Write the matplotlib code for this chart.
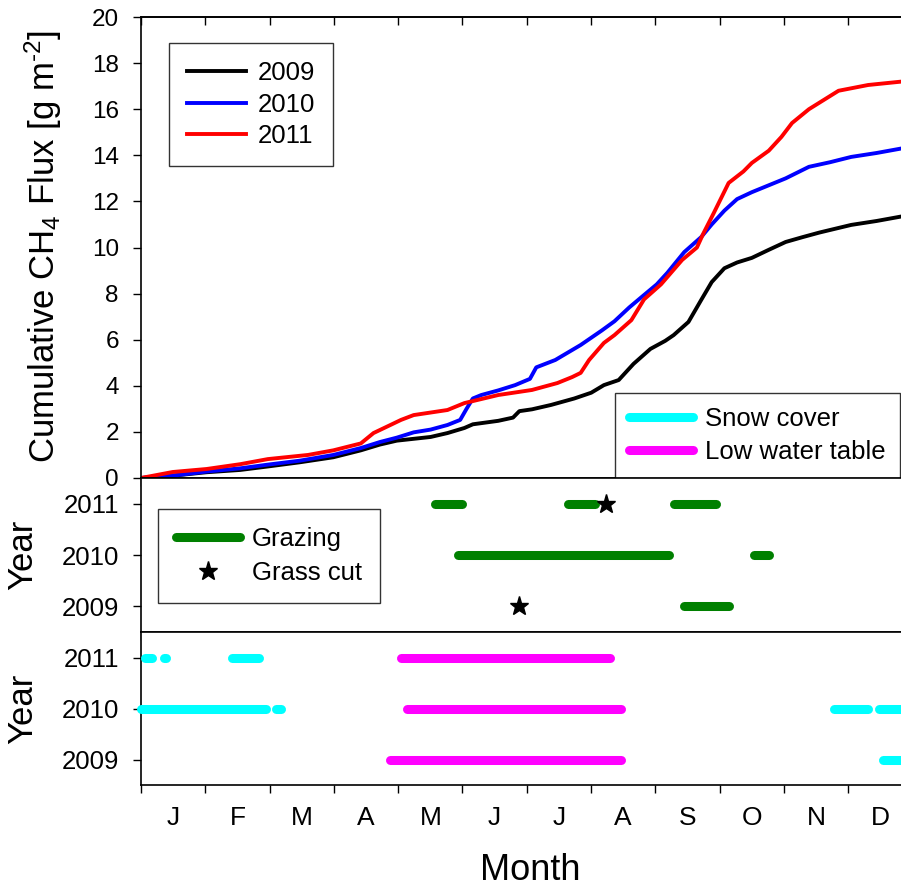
import matplotlib
matplotlib.use("Agg")
import matplotlib.pyplot as plt
from matplotlib.lines import Line2D

# cumulative CH4 flux, day of year vs g m-2
DAYS_2009 = [0, 15, 31, 47, 60, 75, 91, 104, 113, 121, 137, 145, 153, 157, 169, 176, 179, 185,
             194, 205, 213, 219, 226, 233, 241, 248, 252, 259, 265, 270, 276, 282, 289, 297,
             305, 313, 321, 336, 348, 360]
FLUX_2009 = [0, 0.1, 0.25, 0.35, 0.5, 0.68, 0.9, 1.2, 1.45, 1.62, 1.78, 1.95, 2.17, 2.33, 2.48,
             2.62, 2.9, 2.98, 3.17, 3.45, 3.7, 4.03, 4.25, 4.95, 5.6, 5.95, 6.2, 6.77, 7.72, 8.5,
             9.1, 9.35, 9.55, 9.9, 10.24, 10.45, 10.65, 10.98, 11.15, 11.35]
DAYS_2010 = [0, 15, 31, 47, 60, 75, 91, 104, 113, 121, 129, 137, 145, 151, 154, 157, 161, 169,
             177, 184, 187, 196, 208, 218, 224, 231, 238, 244, 249, 257, 265, 270, 276, 282, 289,
             297, 305, 316, 326, 336, 348, 360]
FLUX_2010 = [0, 0.1, 0.28, 0.42, 0.58, 0.75, 1.0, 1.3, 1.56, 1.75, 1.98, 2.1, 2.3, 2.52, 3.0,
             3.45, 3.6, 3.8, 4.03, 4.3, 4.8, 5.12, 5.77, 6.4, 6.8, 7.4, 7.94, 8.4, 8.9, 9.8,
             10.45, 11.0, 11.6, 12.1, 12.4, 12.7, 13.0, 13.5, 13.7, 13.93, 14.1, 14.3]
DAYS_2011 = [0, 15, 31, 47, 60, 79, 91, 104, 110, 118, 123, 129, 145, 153, 169, 185, 197, 204,
             208, 212, 219, 224, 232, 238, 246, 256, 263, 266, 271, 278, 285, 289, 297, 303,
             308, 316, 323, 330, 344, 360]
FLUX_2011 = [0, 0.26, 0.39, 0.6, 0.82, 1.0, 1.2, 1.5, 1.95, 2.3, 2.52, 2.73, 2.95, 3.25, 3.6,
             3.82, 4.12, 4.38, 4.56, 5.12, 5.86, 6.2, 6.85, 7.75, 8.4, 9.46, 10.0, 10.6, 11.5,
             12.8, 13.3, 13.67, 14.2, 14.8, 15.4, 16.0, 16.4, 16.8, 17.05, 17.2]

# management periods (start day, end day)
GRAZING_2009 = [(257, 278)]
GRAZING_2010 = [(150, 250), (290, 297)]
GRAZING_2011 = [(139, 152), (202, 215), (252, 272)]
GRASS_CUT_DAYS = [179, 220]
GRASS_CUT_YEARS = [2009, 2011]

SNOW_2009 = [(351, 365)]
SNOW_2010 = [(0, 59), (64, 66), (328, 344), (349, 365)]
SNOW_2011 = [(2, 5), (11, 12), (43, 56)]
LOW_WT_2009 = [(118, 227)]
LOW_WT_2010 = [(126, 227)]
LOW_WT_2011 = [(123, 222)]

YEARS = [2009, 2010, 2011]
MONTHS = ["J", "F", "M", "A", "M", "J", "J", "A", "S", "O", "N", "D"]

plt.rcParams["font.family"] = ["Liberation Sans", "DejaVu Sans"]
plt.rcParams["mathtext.fontset"] = "custom"
plt.rcParams["mathtext.rm"] = "Liberation Sans"
plt.rcParams["mathtext.it"] = "Liberation Sans:italic"

XMAX = 360.5
MONTH_LEN = 365 / 12
BAR_LW = 6.5


def style_axis(ax, yticks, ysize):
    ax.set_xlim(0, XMAX)
    ax.set_xticks([MONTH_LEN * k for k in range(12)])
    ax.tick_params(axis="x", direction="out", length=6, width=1, labelbottom=False)
    ax.tick_params(axis="y", direction="out", length=6, width=1, labelsize=ysize, pad=10)
    ax.set_yticks(yticks)
    ax.spines["right"].set_visible(False)
    for s in ("left", "top", "bottom"):
        ax.spines[s].set_linewidth(1.2)


def draw_periods(ax, periods, year, color):
    for start, end in periods:
        ax.plot([start, end], [year, year], color=color, lw=BAR_LW,
                solid_capstyle="round", clip_on=False, zorder=3)


def boxed_legend(ax, handles, labels, anchor, loc, pad, spacing, hlen):
    leg = ax.legend(handles, labels, loc=loc, bbox_to_anchor=anchor, fontsize=18.5,
                    frameon=True, fancybox=False, edgecolor="black", handlelength=hlen,
                    handletextpad=0.45, labelspacing=spacing, borderpad=pad, borderaxespad=0)
    leg.get_frame().set_linewidth(1.0)
    return leg


def main() -> None:
    fig = plt.figure(figsize=(9.01, 8.90), dpi=100)
    left, width = 141 / 901, 762 / 901
    ax1 = fig.add_axes([left, 1 - 478 / 890, width, 461 / 890])
    ax2 = fig.add_axes([left, 1 - 632 / 890, width, 154 / 890])
    ax3 = fig.add_axes([left, 1 - 785 / 890, width, 153 / 890])

    # top panel: cumulative flux
    l09, = ax1.plot(DAYS_2009, FLUX_2009, color="black", lw=2.8)
    l10, = ax1.plot(DAYS_2010, FLUX_2010, color="#0000FF", lw=2.8)
    l11, = ax1.plot(DAYS_2011, FLUX_2011, color="#FF0000", lw=2.8)
    style_axis(ax1, range(0, 21, 2), 17.5)
    ax1.set_ylim(0, 20)
    top = ax1.secondary_xaxis("top")
    top.set_xticks([MONTH_LEN * k for k in range(12)])
    top.tick_params(direction="in", length=6, width=1, labeltop=False)
    top.spines["top"].set_linewidth(1.2)

    leg1 = boxed_legend(ax1, [l09, l10, l11], ["2009", "2010", "2011"],
                        (0.037, 0.944), "upper left", 0.7, 0.3, 2.3)
    ax1.add_artist(leg1)

    snow_h = Line2D([], [], color="#00FFFF", lw=BAR_LW, solid_capstyle="round")
    wt_h = Line2D([], [], color="#FF00FF", lw=BAR_LW, solid_capstyle="round")
    boxed_legend(ax1, [snow_h, wt_h], ["Snow cover", "Low water table"],
                 ((615 - 141) / 762, 0), "lower left", 0.55, 0.35, 2.5)

    # middle panel: grazing and grass cut
    draw_periods(ax2, GRAZING_2009, 2009, "#008000")
    draw_periods(ax2, GRAZING_2010, 2010, "#008000")
    draw_periods(ax2, GRAZING_2011, 2011, "#008000")
    ax2.plot(GRASS_CUT_DAYS, GRASS_CUT_YEARS, linestyle="none", marker="*", color="black",
             markersize=14, zorder=4)
    style_axis(ax2, YEARS, 18.5)
    ax2.set_ylim(2008.5, 2011.5)
    graze_h = Line2D([], [], color="#008000", lw=BAR_LW, solid_capstyle="round")
    cut_h = Line2D([], [], linestyle="none", marker="*", color="black", markersize=14)
    boxed_legend(ax2, [graze_h, cut_h], ["Grazing", "Grass cut"],
                 ((158 - 141) / 762, (632 - 509) / 154), "upper left", 0.7, 0.4, 2.5)

    # bottom panel: snow cover and low water table
    for year, snow, wt in zip(YEARS, [SNOW_2009, SNOW_2010, SNOW_2011],
                              [LOW_WT_2009, LOW_WT_2010, LOW_WT_2011]):
        draw_periods(ax3, snow, year, "#00FFFF")
        draw_periods(ax3, wt, year, "#FF00FF")
    style_axis(ax3, YEARS, 18.5)
    ax3.set_ylim(2008.5, 2011.5)
    ax3.set_xticks([MONTH_LEN * (k + 0.5) for k in range(12)], minor=True)
    ax3.set_xticklabels(MONTHS, minor=True, fontsize=19)
    ax3.tick_params(axis="x", which="minor", length=0, pad=15, labelbottom=True)

    fig.text(43 / 901, 1 - 246 / 890,
             "Cumulative CH$_4$ Flux [g m$^{\u20102}$]", rotation=90,
             ha="center", va="center", fontsize=25)
    fig.text(23 / 901, 1 - 555 / 890, "Year", rotation=90, ha="center", va="center", fontsize=25)
    fig.text(23 / 901, 1 - 709 / 890, "Year", rotation=90, ha="center", va="center", fontsize=25)
    fig.text(530 / 901, 1 - 871 / 890, "Month", ha="center", va="center", fontsize=26)

    fig.savefig("out.png", dpi=100)


if __name__ == "__main__":
    main()
